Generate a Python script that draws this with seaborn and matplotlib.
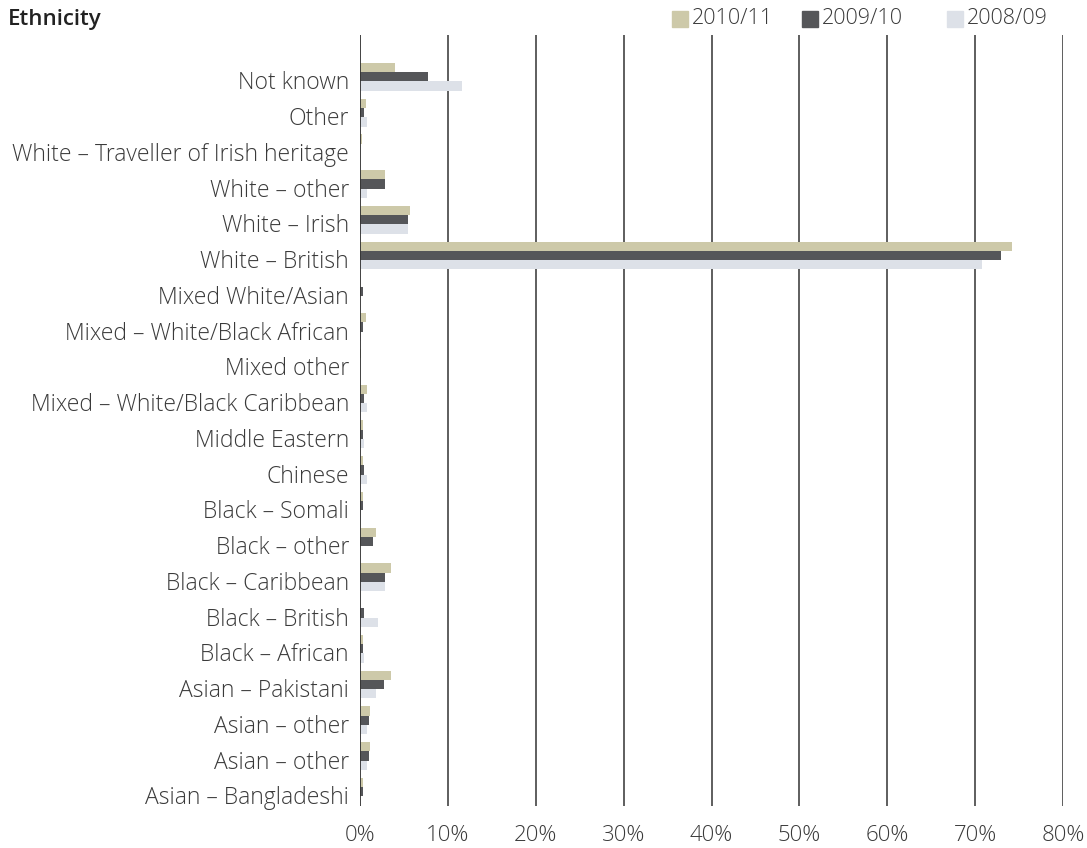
import matplotlib
matplotlib.use("Agg")
import matplotlib.pyplot as plt
import seaborn as sns
import pandas as pd
import numpy as np

categories = ["Not known", "Other", "White – Traveller of Irish heritage", "White – other",
              "White – Irish", "White – British", "Mixed White/Asian",
              "Mixed – White/Black African", "Mixed other", "Mixed – White/Black Caribbean",
              "Middle Eastern", "Chinese", "Black – Somali", "Black – other",
              "Black – Caribbean", "Black – British", "Black – African",
              "Asian – Pakistani", "Asian – other", "Asian – other", "Asian – Bangladeshi"]
years = ["2010/11", "2009/10", "2008/09"]
v_2010_11 = [4.0, 0.7, 0.2, 2.8, 5.7, 74.2, 0.0, 0.7, 0.1, 0.8, 0.3, 0.3, 0.3, 1.8, 3.5, 0.0, 0.3, 3.5, 1.1, 1.1, 0.3]
v_2009_10 = [7.7, 0.4, 0.0, 2.8, 5.5, 73.0, 0.3, 0.3, 0.0, 0.4, 0.3, 0.5, 0.3, 1.5, 2.9, 0.4, 0.3, 2.7, 1.0, 1.0, 0.3]
v_2008_09 = [11.6, 0.8, 0.0, 0.8, 5.5, 70.8, 0.0, 0.1, 0.0, 0.8, 0.4, 0.8, 0.1, 0.0, 2.9, 2.1, 0.5, 1.8, 0.8, 0.8, 0.0]
x_ticks = [0, 10, 20, 30, 40, 50, 60, 70, 80]
colors = ["#cdc9a9", "#555659", "#dde1e8"]

keys = [f"c{i:02d}" for i in range(len(categories))]
rows = []
for vals, yr in zip([v_2010_11, v_2009_10, v_2008_09], years):
    for k, v in zip(keys, vals):
        rows.append({"key": k, "year": yr, "value": v})
df = pd.DataFrame(rows)

sns.set_theme(style="white")
plt.rcParams["font.family"] = ["Open Sans", "DejaVu Sans"]
text_col = "#3a3a3a"

fig = plt.figure(figsize=(10.87, 8.48), dpi=100)
ax = fig.add_axes([360 / 1087, 1 - 806 / 848, (1063 - 360) / 1087, (806 - 35) / 848])

sns.barplot(data=df, x="value", y="key", hue="year", hue_order=years, order=keys,
            palette=colors, orient="h", ax=ax, width=0.78, saturation=1, legend=False,
            linewidth=0, zorder=3)

ax.set_xlim(0, 80)
ax.set_ylim(len(categories) - 0.6, -1.17)
ax.set_xticks(x_ticks)
ax.set_xticklabels([f"{t}%" for t in x_ticks], fontsize=16, color=text_col, fontweight="light")
ax.set_yticks(np.arange(len(categories)) + 0.1)
ax.set_yticklabels(categories, fontsize=16.5, color=text_col, fontweight="light")
ax.tick_params(axis="y", length=0, pad=8)
ax.tick_params(axis="x", length=0, pad=14)
ax.set_xlabel("")
ax.set_ylabel("")
for t in x_ticks[1:]:
    ax.axvline(t, color="#333333", lw=1.1, zorder=1)
ax.axvline(0, color="#333333", lw=1.3, zorder=4)
for s in ax.spines.values():
    s.set_visible(False)

fig.text(8 / 1087, 1 - 19 / 848, "Ethnicity", fontsize=16, fontweight="semibold",
         color="#222222", va="center", ha="left")

leg_x = [672, 802, 947]
for x0, yr, c in zip(leg_x, years, colors):
    fig.patches.append(plt.Rectangle((x0 / 1087, 1 - 27 / 848), 16 / 1087, 16 / 848,
                                     transform=fig.transFigure, color=c, figure=fig))
    fig.text((x0 + 20) / 1087, 1 - 19 / 848, yr, fontsize=15.5, color=text_col,
             va="center", ha="left", fontweight="light")

fig.savefig("out.png", dpi=100)
